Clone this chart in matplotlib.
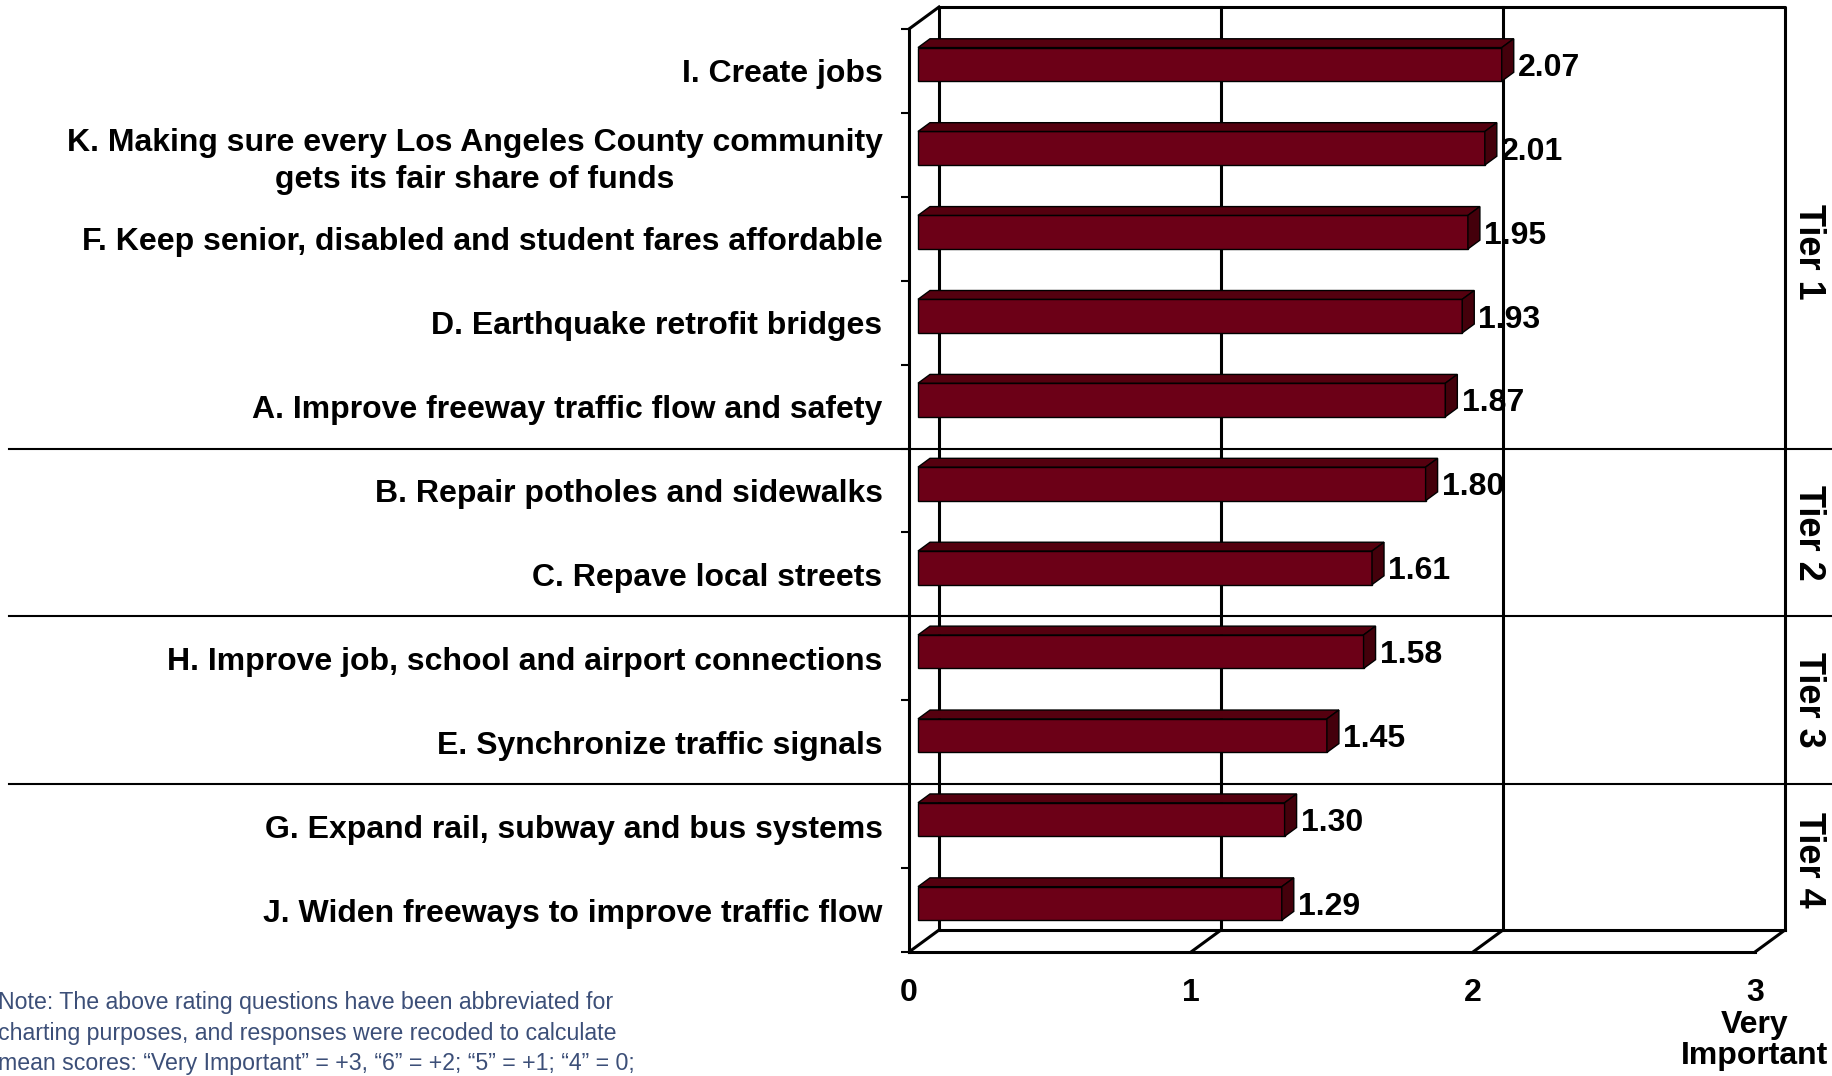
import matplotlib.pyplot as plt
from matplotlib.patches import Polygon

# data
labels = [
    "I. Create jobs",
    "K. Making sure every Los Angeles County community\ngets its fair share of funds",
    "F. Keep senior, disabled and student fares affordable",
    "D. Earthquake retrofit bridges",
    "A. Improve freeway traffic flow and safety",
    "B. Repair potholes and sidewalks",
    "C. Repave local streets",
    "H. Improve job, school and airport connections",
    "E. Synchronize traffic signals",
    "G. Expand rail, subway and bus systems",
    "J. Widen freeways to improve traffic flow",
]
values = [2.07, 2.01, 1.95, 1.93, 1.87, 1.80, 1.61, 1.58, 1.45, 1.30, 1.29]
x_ticks = [0, 1, 2, 3]
x_ticklabels = ["0", "1", "2", "3\nVery\nImportant"]
tier_names = ["Tier 1", "Tier 2", "Tier 3", "Tier 4"]
tier_breaks = [5, 7, 9]
tier_centers = [2.65, 6.0, 8.0, 9.9]
note = ("Note: The above rating questions have been abbreviated for\n"
        "charting purposes, and responses were recoded to calculate\n"
        "mean scores: \u201cVery Important\u201d = +3, \u201c6\u201d = +2; \u201c5\u201d = +1; \u201c4\u201d = 0;")

plt.rcParams['font.family'] = ['Liberation Sans', 'DejaVu Sans']

W, H = 1833, 1076
fig = plt.figure(figsize=(W / 100, H / 100), dpi=100)
# front plane of the 3d box
ax = fig.add_axes([909 / W, 1 - 952 / H, 846 / W, 923 / H])
n = len(values)
ax.set_xlim(0, 3)
ax.set_ylim(n, 0)

# depth offset of the back wall, in data units
DX = 30 / 282
DY = -22 / 83.9

front = '#6c0017'
top_c = '#55000f'
side_c = '#44000b'
lw_frame = 2.2

# back wall, gridlines and floor
bx = [0 + DX, 0 + DX, 3 + DX, 3 + DX]
by = [n + DY, 0 + DY, 0 + DY, n + DY]
ax.plot(bx, by, color='black', lw=lw_frame, clip_on=False, zorder=1)
ax.plot([0 + DX, 3 + DX], [n + DY, n + DY], color='black', lw=lw_frame, clip_on=False, zorder=1)
for g in [1, 2]:
    ax.plot([g + DX, g + DX], [0 + DY, n + DY], color='black', lw=lw_frame, clip_on=False, zorder=1)
for g in x_ticks:
    ax.plot([g, g + DX], [n, n + DY], color='black', lw=lw_frame, clip_on=False, zorder=1)
ax.plot([0, DX], [0, DY], color='black', lw=lw_frame, clip_on=False, zorder=1)

# tier separators across the whole figure
for b in tier_breaks:
    ax.plot([-1.064, 1.1], [b, b], color='black', lw=1.5,
            transform=ax.get_yaxis_transform(), clip_on=False, zorder=2)

# 3d bars
d0 = 0.3
dd = 0.4
h = 0.2
for i, v in enumerate(values):
    yc = i + 0.5 + d0 * DY
    x0 = d0 * DX
    x1 = v + d0 * DX
    yt, yb = yc - h, yc + h
    ex, ey = dd * DX, dd * DY
    faces = [
        ([(x0, yt), (x1, yt), (x1, yb), (x0, yb)], front),
        ([(x0, yt), (x1, yt), (x1 + ex, yt + ey), (x0 + ex, yt + ey)], top_c),
        ([(x1, yt), (x1, yb), (x1 + ex, yb + ey), (x1 + ex, yt + ey)], side_c),
    ]
    for pts, c in faces:
        ax.add_patch(Polygon(pts, closed=True, facecolor=c, edgecolor='black',
                             lw=1.0, clip_on=False, zorder=3))
    ax.text(x1 + ex + 0.015, yc, f"{v:.2f}", ha='left', va='center_baseline',
            fontsize=23, fontweight='bold', zorder=4, clip_on=False)

# tier labels
for name, yc in zip(tier_names, tier_centers):
    ax.text(3.19, yc, name, rotation=-90, ha='center', va='center',
            fontsize=26, fontweight='bold', clip_on=False)

# axes: left spine = front vertical, bottom spine = front floor edge
for s in ['top', 'right']:
    ax.spines[s].set_visible(False)
for s in ['left', 'bottom']:
    ax.spines[s].set_linewidth(lw_frame)
ax.set_yticks(range(n + 1))
ax.set_yticklabels([])
ax.tick_params(axis='y', which='major', length=6, width=1.5, direction='out')
ax.set_yticks([i + 0.5 for i in range(n)], minor=True)
ax.set_yticklabels(labels, minor=True, fontsize=23, fontweight='bold')
ax.tick_params(axis='y', which='minor', length=0, pad=19)
for t in ax.get_yticklabels(minor=True):
    t.set_multialignment('center')
    t.set_linespacing(1.3)

ax.set_xticks(x_ticks)
ax.set_xticklabels(x_ticklabels, fontsize=23, fontweight='bold', linespacing=1.05)
ax.tick_params(axis='x', length=0, pad=19)
ax.set_facecolor('none')

fig.text(-0.001, 1 - 991 / H, note, ha='left', va='top', fontsize=16.7,
         color='#3c4f78', linespacing=1.42)

fig.savefig('out.png', dpi=100)
